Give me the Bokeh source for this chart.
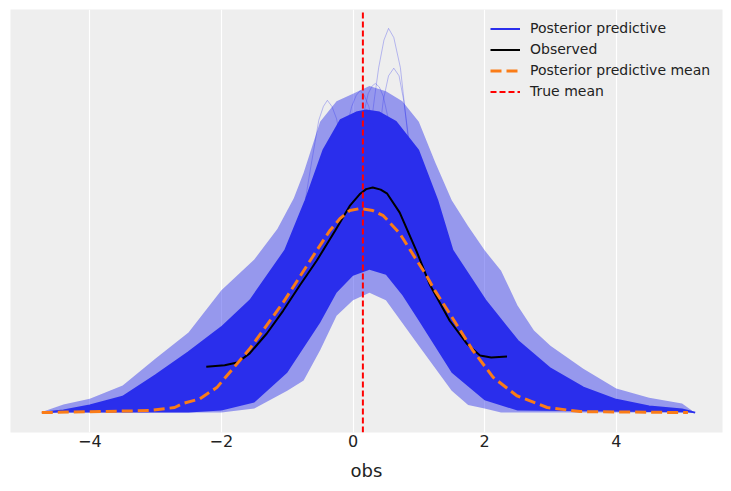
from bokeh.plotting import figure
from bokeh.models import Range1d, FixedTicker, Legend, LegendItem
from bokeh.embed import file_html
from bokeh.resources import INLINE

# ---------------- data ----------------
# Posterior predictive KDE bundle: dense core, upper and lower edges
core_up_x = [-4.7, -4.4, -4.0, -3.5, -3.0, -2.5, -2.0, -1.56, -1.03, -0.72, -0.45, -0.19, 0.05,
             0.2, 0.4, 0.65, 0.99, 1.28, 1.51, 2.01, 2.5, 3.0, 3.5, 4.0, 4.5, 5.0, 5.2]
core_up_y = [0.0, 0.004, 0.014, 0.031, 0.073, 0.118, 0.167, 0.22, 0.318, 0.416, 0.514, 0.573, 0.588,
             0.592, 0.588, 0.57, 0.514, 0.416, 0.318, 0.22, 0.141, 0.086, 0.049, 0.025, 0.012, 0.006, 0.0]
core_lo_x = [-4.7, -2.5, -2.0, -1.5, -1.0, -0.5, -0.25, 0.0, 0.25, 0.5, 0.75, 1.0, 1.5, 2.0, 2.5, 5.2]
core_lo_y = [0.0, 0.0, 0.004, 0.020, 0.078, 0.176, 0.235, 0.268, 0.28, 0.27, 0.23, 0.18, 0.078, 0.024, 0.004, 0.0]

# lighter fringe of individual sample curves
fr_up_x = [-4.75, -4.4, -4.0, -3.5, -3.0, -2.5, -2.0, -1.5, -1.15, -0.9, -0.75, -0.5, -0.25, 0.0,
           0.25, 0.5, 0.75, 1.0, 1.25, 1.5, 1.75, 2.0, 2.25, 2.5, 2.75, 3.0, 3.5, 4.0, 4.5, 5.0, 5.15]
fr_up_y = [0.0, 0.016, 0.027, 0.053, 0.106, 0.157, 0.24, 0.30, 0.36, 0.42, 0.47, 0.57, 0.61, 0.625,
           0.64, 0.63, 0.61, 0.57, 0.49, 0.416, 0.365, 0.318, 0.278, 0.21, 0.161, 0.131, 0.086, 0.047, 0.029, 0.018, 0.004]
fr_lo_x = [-4.75, -2.0, -1.5, -1.0, -0.75, -0.5, -0.25, 0.0, 0.25, 0.5, 1.0, 1.5, 1.75, 2.0, 2.25, 5.15]
fr_lo_y = [0.0, 0.0, 0.008, 0.043, 0.063, 0.122, 0.190, 0.220, 0.235, 0.220, 0.131, 0.043, 0.015, 0.008, 0.0, 0.0]

# a few individual outlying sample curves
out1_x = [0.15, 0.19, 0.27, 0.33, 0.39, 0.47, 0.54, 0.62, 0.72, 0.83, 0.92]
out1_y = [0.430, 0.494, 0.559, 0.620, 0.676, 0.730, 0.753, 0.735, 0.676, 0.547, 0.416]
out2_x = [0.32, 0.37, 0.46, 0.54, 0.62, 0.70, 0.77, 0.87]
out2_y = [0.440, 0.514, 0.612, 0.660, 0.675, 0.660, 0.612, 0.514]
out3_x = [-0.72, -0.65, -0.52, -0.45, -0.39, -0.32, -0.25, -0.13]
out3_y = [0.420, 0.475, 0.573, 0.600, 0.612, 0.600, 0.576, 0.494]
out4_x = [-0.22, -0.15, -0.02, 0.05, 0.11, 0.17, 0.24, 0.37]
out4_y = [0.470, 0.530, 0.600, 0.622, 0.631, 0.622, 0.600, 0.530]
out5_x = [0.05, 0.12, 0.23, 0.29, 0.34, 0.40, 0.46, 0.58]
out5_y = [0.500, 0.560, 0.625, 0.640, 0.645, 0.638, 0.620, 0.550]

# Observed KDE
obs_x = [-2.23, -1.95, -1.76, -1.57, -1.31, -1.06, -0.81, -0.55, -0.27, -0.05, 0.11, 0.20, 0.30,
         0.42, 0.52, 0.71, 0.97, 1.17, 1.47, 1.73, 1.93, 2.10, 2.34]
obs_y = [0.090, 0.093, 0.098, 0.116, 0.155, 0.200, 0.249, 0.298, 0.357, 0.405, 0.429, 0.438, 0.441,
         0.437, 0.429, 0.392, 0.315, 0.250, 0.180, 0.135, 0.112, 0.108, 0.110]

# Posterior predictive mean KDE
mean_x = [-4.73, -3.09, -2.71, -2.58, -2.33, -2.07, -1.57, -1.06, -0.55, -0.35, -0.2, -0.05, 0.11,
          0.30, 0.46, 0.71, 0.97, 1.10, 1.25, 1.47, 1.82, 2.13, 2.49, 2.95, 3.45, 5.09]
mean_y = [0.000, 0.004, 0.010, 0.018, 0.027, 0.049, 0.125, 0.216, 0.318, 0.357, 0.380, 0.396, 0.400,
          0.396, 0.386, 0.351, 0.298, 0.272, 0.238, 0.194, 0.122, 0.069, 0.033, 0.010, 0.002, 0.000]

true_mean = 0.15
x_ticks = [-4, -2, 0, 2, 4]
x_tick_labels = {-4: "\u22124", -2: "\u22122", 0: "0", 2: "2", 4: "4"}

# ---------------- styling ----------------
BLUE = "#2a2eec"
ORANGE = "#fa7c17"
FONT = "DejaVu Sans"
Y0, Y1 = -0.039, 0.790

p = figure(width=731, height=491, output_backend="svg", toolbar_location=None,
           x_range=Range1d(-5.205, 5.615), y_range=Range1d(Y0, Y1),
           min_border_left=10, min_border_right=9, min_border_top=9, min_border_bottom=59)
p.background_fill_color = "#eeeeee"
p.border_fill_color = "white"
p.outline_line_color = None
p.yaxis.visible = False
p.ygrid.grid_line_color = None
p.xgrid.grid_line_color = "white"
p.xgrid.grid_line_width = 1.2

ax = p.xaxis[0]
ax.ticker = FixedTicker(ticks=x_ticks)
ax.major_label_overrides = x_tick_labels
ax.axis_line_color = None
ax.major_tick_line_color = None
ax.minor_tick_line_color = None
ax.major_tick_out = 0
ax.major_tick_in = 0
ax.major_label_text_font = FONT
ax.major_label_text_font_size = "16px"
ax.major_label_text_color = "#222222"
ax.major_label_standoff = 2
ax.axis_label = "obs"
ax.axis_label_text_font = FONT
ax.axis_label_text_font_size = "18px"
ax.axis_label_text_font_style = "normal"
ax.axis_label_text_color = "#222222"
ax.axis_label_standoff = 10

# posterior predictive bundle (polygons built from the edge arrays)
p.patch(x=fr_up_x + fr_lo_x[::-1], y=fr_up_y + fr_lo_y[::-1],
        fill_color=BLUE, fill_alpha=0.45, line_color=None)
p.patch(x=core_up_x + core_lo_x[::-1], y=core_up_y + core_lo_y[::-1],
        fill_color=BLUE, fill_alpha=1.0, line_color=None)
for xs, ys in [(out1_x, out1_y), (out2_x, out2_y), (out3_x, out3_y), (out4_x, out4_y), (out5_x, out5_y)]:
    p.line(xs, ys, line_color=BLUE, line_alpha=0.3, line_width=1)

r_pp = p.line(core_up_x, core_up_y, line_color=BLUE, line_width=2)
r_obs = p.line(obs_x, obs_y, line_color="black", line_width=2)
r_mean = p.line(mean_x, mean_y, line_color=ORANGE, line_width=3, line_dash="11 5")
r_true = p.line([true_mean, true_mean], [Y0, Y1], line_color="red", line_width=2, line_dash="6 3")

legend = Legend(items=[
    LegendItem(label="Posterior predictive", renderers=[r_pp]),
    LegendItem(label="Observed", renderers=[r_obs]),
    LegendItem(label="Posterior predictive mean", renderers=[r_mean]),
    LegendItem(label="True mean", renderers=[r_true]),
], location=(480, 333), padding=0, margin=0, spacing=5, glyph_width=30, glyph_height=15,
    label_height=15, label_standoff=10, label_text_font=FONT, label_text_font_size="14px",
    label_text_color="#222222", background_fill_alpha=0, border_line_color=None)
p.add_layout(legend, "center")

open("out.html", "w").write(file_html(p, INLINE))
